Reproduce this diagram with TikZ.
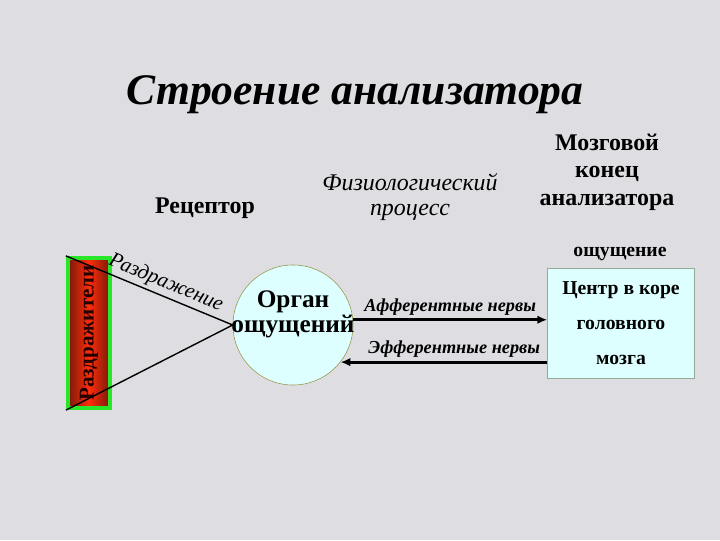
\documentclass[tikz,border=0pt]{standalone}
\usepackage{fontspec}
\setmainfont{Liberation Serif}
\usetikzlibrary{arrows.meta}

\definecolor{marble}{RGB}{222,222,226}
\definecolor{palecyan}{RGB}{222,255,255}
\definecolor{rimolive}{RGB}{150,150,70}
\definecolor{rimgray}{RGB}{150,170,150}
\definecolor{barred}{RGB}{255,45,10}
\definecolor{bardark}{RGB}{120,25,10}
\definecolor{bargreen}{RGB}{40,230,40}

\tikzset{
  titletext/.style={font=\bfseries\itshape\fontsize{31}{36}\selectfont},
  headbold/.style={font=\bfseries\fontsize{17}{19.5}\selectfont, align=center},
  procitalic/.style={font=\itshape\fontsize{17}{18}\selectfont, align=center},
  smallbold/.style={font=\bfseries\fontsize{14}{16}\selectfont},
  organcircle/.style={circle, draw=rimolive, fill=palecyan, minimum size=3cm, inner sep=0pt},
  brainbox/.style={draw=rimgray, fill=palecyan, minimum width=3.675cm, minimum height=2.75cm,
    align=center, font=\bfseries\fontsize{14}{25}\selectfont},
  stimbar/.style={draw=bargreen, line width=3pt, minimum width=1.05cm, minimum height=3.75cm,
    left color=bardark, right color=bardark, middle color=barred},
  nerve/.style={line width=2.2pt, -{Latex[length=7pt,width=6pt]}},
  nervelabel/.style={font=\bfseries\itshape\fontsize{13}{15}\selectfont, inner sep=2pt}
}

\begin{document}
\begin{tikzpicture}[x=0.025cm, y=-0.025cm]
  \fill[marble] (0,0) rectangle (720,540);
  \useasboundingbox (0,0) rectangle (720,540);

  \node[titletext] (title) at (355,95) {Строение анализатора};
  \node[headbold] (receptor) at (205,208) {Рецептор};
  \node[procitalic] (process) at (410,197) {Физиологический\\процесс};
  \node[headbold] (brainend) at (607,172) {Мозговой\\конец\\анализатора};
  \node[smallbold] (sensation) at (620,254) {ощущение};

  \node[organcircle] (organ) at (293,325) {};
  \node[font=\bfseries\fontsize{18}{18}\selectfont, align=center] (organtext) at (293,314) {Орган\\ощущений};
  \node[brainbox] (center) at (621,323) {Центр в коре\\головного\\мозга};

  \node[stimbar] (stim) at (89,333) {};
  \node[rotate=90, font=\bfseries\fontsize{15}{17}\selectfont, text=black!85!red] (stimtext) at (stim.center) {Раздражители};

  \draw[line width=1pt] (stim.north west) -- node[sloped, above, pos=0.57, inner sep=2pt, font=\itshape\fontsize{15}{17}\selectfont] (irritation) {Раздражение} (organ.west);
  \draw[line width=1pt] (stim.south west) -- (organ.west);

  \draw[nerve] (organ.5) -- node[nervelabel, above] (afferent) {Афферентные нервы} (organ.5 -| center.west);
  \draw[nerve] (organ.-38 -| center.west) -- node[nervelabel, above, pos=0.45] (efferent) {Эфферентные нервы} (organ.-38);
\end{tikzpicture}
\end{document}
